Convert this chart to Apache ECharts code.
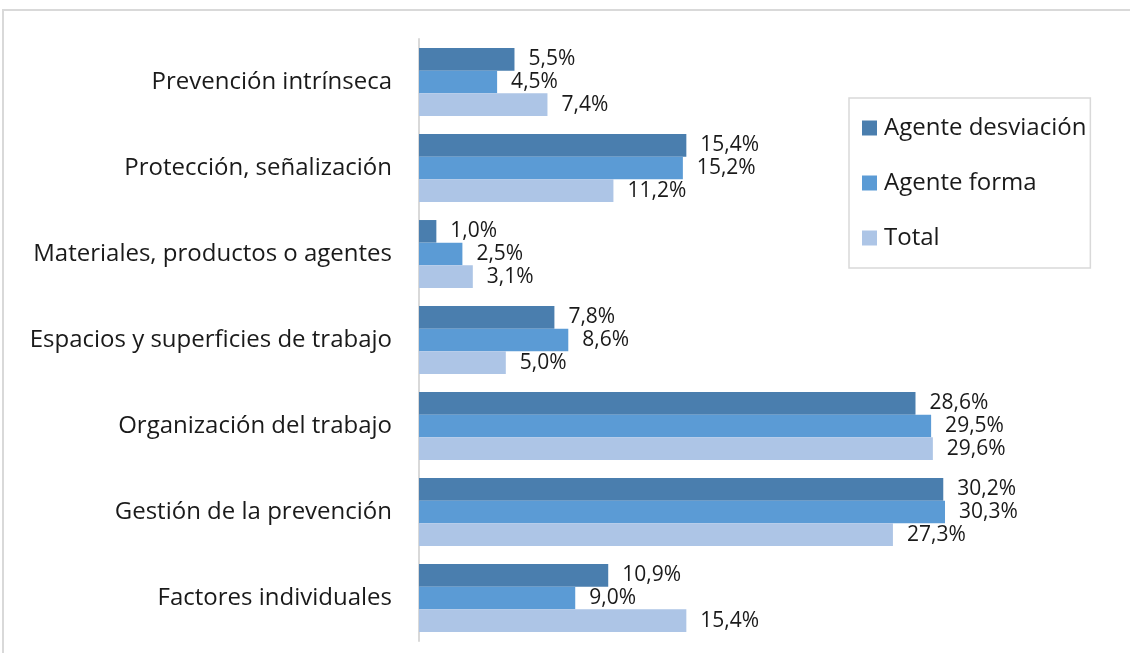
<!DOCTYPE html>
<html>
<head>
<meta charset="utf-8">
<script src="https://cdn.jsdelivr.net/npm/echarts@6/dist/echarts.min.js"></script>
<style>
  html, body { margin: 0; padding: 0; background: #fff; }
  #chart { width: 1130px; height: 653px; }
</style>
</head>
<body>
<div id="chart"></div>
<script>
// categorías, de arriba a abajo
const categories = [
  'Prevención intrínseca',
  'Protección, señalización',
  'Materiales, productos o agentes',
  'Espacios y superficies de trabajo',
  'Organización del trabajo',
  'Gestión de la prevención',
  'Factores individuales'
]

const agenteDesviacion = [5.5, 15.4, 1.0, 7.8, 28.6, 30.2, 10.9]
const agenteForma = [4.5, 15.2, 2.5, 8.6, 29.5, 30.3, 9.0]
const total = [7.4, 11.2, 3.1, 5.0, 29.6, 27.3, 15.4]

const FONT = '"Open Sans", "Noto Sans", sans-serif'

const fmt = (p) => p.value.toFixed(1).replace('.', ',') + '%'

function makeSeries(name, data, color) {
  return {
    name: name,
    type: 'bar',
    data: data,
    barCategoryGap: '21%',
    barGap: '0%',
    itemStyle: { color: color },
    label: {
      show: true,
      position: 'right',
      distance: 14,
      formatter: fmt,
      fontFamily: FONT,
      fontSize: 21,
      color: '#1a1a1a'
    }
  }
}

const chart = echarts.init(document.getElementById('chart'))

chart.setOption({
  animation: false,
  backgroundColor: '#fff',
  graphic: [{
    type: 'rect',
    shape: { x: 3, y: 10, width: 1200, height: 700 },
    style: { fill: 'none', stroke: '#d9d9d9', lineWidth: 2 },
    silent: true
  }],
  grid: { left: 419, top: 39, height: 602, width: 607.6 },
  xAxis: {
    type: 'value',
    min: 0,
    max: 35,
    show: false
  },
  yAxis: {
    type: 'category',
    data: categories,
    inverse: true,
    axisLine: { show: true, lineStyle: { color: '#d9d9d9', width: 2 } },
    axisTick: { show: false },
    axisLabel: {
      fontFamily: FONT,
      fontSize: 24,
      color: '#1a1a1a',
      margin: 27
    }
  },
  legend: {
    orient: 'vertical',
    left: 849,
    top: 98,
    padding: [17, 4, 17, 13],
    borderColor: '#d9d9d9',
    borderWidth: 1.5,
    itemWidth: 15,
    itemHeight: 15,
    itemGap: 29,
    icon: 'rect',
    textStyle: {
      fontFamily: FONT,
      fontSize: 24,
      color: '#1a1a1a',
      lineHeight: 26,
      padding: [0, 0, 0, 2]
    }
  },
  series: [
    makeSeries('Agente desviación', agenteDesviacion, '#4a7eae'),
    makeSeries('Agente forma', agenteForma, '#5b9bd5'),
    makeSeries('Total', total, '#adc5e6')
  ]
})
</script>
</body>
</html>
